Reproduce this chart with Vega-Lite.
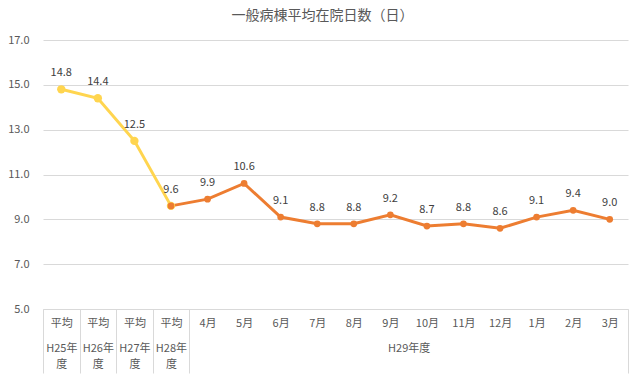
{
  "$schema": "https://vega.github.io/schema/vega-lite/v6.json",
  "autosize": "none",
  "width": 585,
  "height": 269,
  "padding": {"left": 43, "top": 40, "right": 6, "bottom": 71},
  "background": "white",
  "config": {
    "font": "Noto Sans CJK JP",
    "view": {"stroke": null}
  },
  "title": {
    "text": "一般病棟平均在院日数（日）",
    "fontSize": 14,
    "fontWeight": "normal",
    "color": "#595959",
    "anchor": "middle",
    "dx": -13,
    "offset": 11
  },
  "datasets": {
    "main": [
      {"period": "H25年度平均", "series": "avg", "value": 14.8},
      {"period": "H26年度平均", "series": "avg", "value": 14.4},
      {"period": "H27年度平均", "series": "avg", "value": 12.5},
      {"period": "H28年度平均", "series": "avg", "value": 9.6},
      {"period": "H28年度平均", "series": "h29", "value": 9.6},
      {"period": "4月", "series": "h29", "value": 9.9},
      {"period": "5月", "series": "h29", "value": 10.6},
      {"period": "6月", "series": "h29", "value": 9.1},
      {"period": "7月", "series": "h29", "value": 8.8},
      {"period": "8月", "series": "h29", "value": 8.8},
      {"period": "9月", "series": "h29", "value": 9.2},
      {"period": "10月", "series": "h29", "value": 8.7},
      {"period": "11月", "series": "h29", "value": 8.8},
      {"period": "12月", "series": "h29", "value": 8.6},
      {"period": "1月", "series": "h29", "value": 9.1},
      {"period": "2月", "series": "h29", "value": 9.4},
      {"period": "3月", "series": "h29", "value": 9.0}
    ],
    "groups": [
      {"group": "H25年度", "start": 0, "end": 1},
      {"group": "H26年度", "start": 1, "end": 2},
      {"group": "H27年度", "start": 2, "end": 3},
      {"group": "H28年度", "start": 3, "end": 4},
      {"group": "H29年度", "start": 4, "end": 16}
    ]
  },
  "layer": [
    {
      "data": {"name": "main"},
      "encoding": {
        "x": {
          "field": "period",
          "type": "nominal",
          "sort": null,
          "scale": {"type": "point", "padding": 0.5},
          "axis": {
            "title": null,
            "labelAngle": 0,
            "ticks": false,
            "tickSize": 0,
            "grid": false,
            "domain": true,
            "domainColor": "#d9d9d9",
            "labelPadding": 8,
            "labelFontSize": 11,
            "labelColor": "#595959",
            "labelExpr": "indexof(datum.value, '平均') >= 0 ? '平均' : datum.value"
          }
        },
        "y": {
          "field": "value",
          "type": "quantitative",
          "scale": {"domain": [5, 17], "nice": false, "zero": false},
          "axis": {
            "title": null,
            "values": [5, 7, 9, 11, 13, 15, 17],
            "format": ".1f",
            "domain": false,
            "ticks": false,
            "gridColor": "#d9d9d9",
            "labelPadding": 14,
            "labelFontSize": 11,
            "labelColor": "#595959"
          }
        },
        "color": {
          "field": "series",
          "type": "nominal",
          "scale": {"domain": ["avg", "h29"], "range": ["#FFD54F", "#ED7D31"]},
          "legend": null
        }
      },
      "layer": [
        {"mark": {"type": "line", "strokeWidth": 3}},
        {
          "mark": {"type": "point", "filled": true, "opacity": 1},
          "encoding": {
            "size": {
              "field": "series",
              "type": "nominal",
              "scale": {"domain": ["avg", "h29"], "range": [70, 45]},
              "legend": null
            }
          }
        },
        {
          "transform": [{"filter": "datum.series == 'h29' || datum.period != 'H28年度平均'"}],
          "mark": {"type": "text", "dy": -16, "fontSize": 11, "color": "#404040"},
          "encoding": {
            "text": {"field": "value", "type": "quantitative", "format": ".1f"},
            "color": {"value": "#404040"}
          }
        }
      ]
    },
    {
      "data": {"name": "groups"},
      "mark": {"type": "rule", "strokeOpacity": 0},
      "encoding": {
        "x": {
          "field": "start",
          "type": "quantitative",
          "scale": {"domain": [0, 16], "nice": false, "zero": false},
          "axis": {
            "orient": "bottom",
            "title": null,
            "grid": false,
            "domain": false,
            "values": [0, 0.5, 1, 1.5, 2, 2.5, 3, 3.5, 4, 10, 16],
            "tickSize": 64,
            "tickWidth": 1,
            "tickColor": {
              "condition": {"test": "datum.value % 1 === 0 && datum.value !== 10", "value": "#d9d9d9"},
              "value": "transparent"
            },
            "labelPadding": -31,
            "labelLineHeight": 16,
            "labelFontSize": 11,
            "labelColor": "#595959",
            "labelOverlap": false,
            "labelFlush": false,
            "labelBound": false,
            "labelExpr": "datum.value == 0.5 ? ['H25年', '度'] : datum.value == 1.5 ? ['H26年', '度'] : datum.value == 2.5 ? ['H27年', '度'] : datum.value == 3.5 ? ['H28年', '度'] : datum.value == 10 ? 'H29年度' : ''"
          }
        },
        "x2": {"field": "end"}
      }
    }
  ],
  "resolve": {"scale": {"x": "independent"}, "axis": {"x": "independent"}}
}
